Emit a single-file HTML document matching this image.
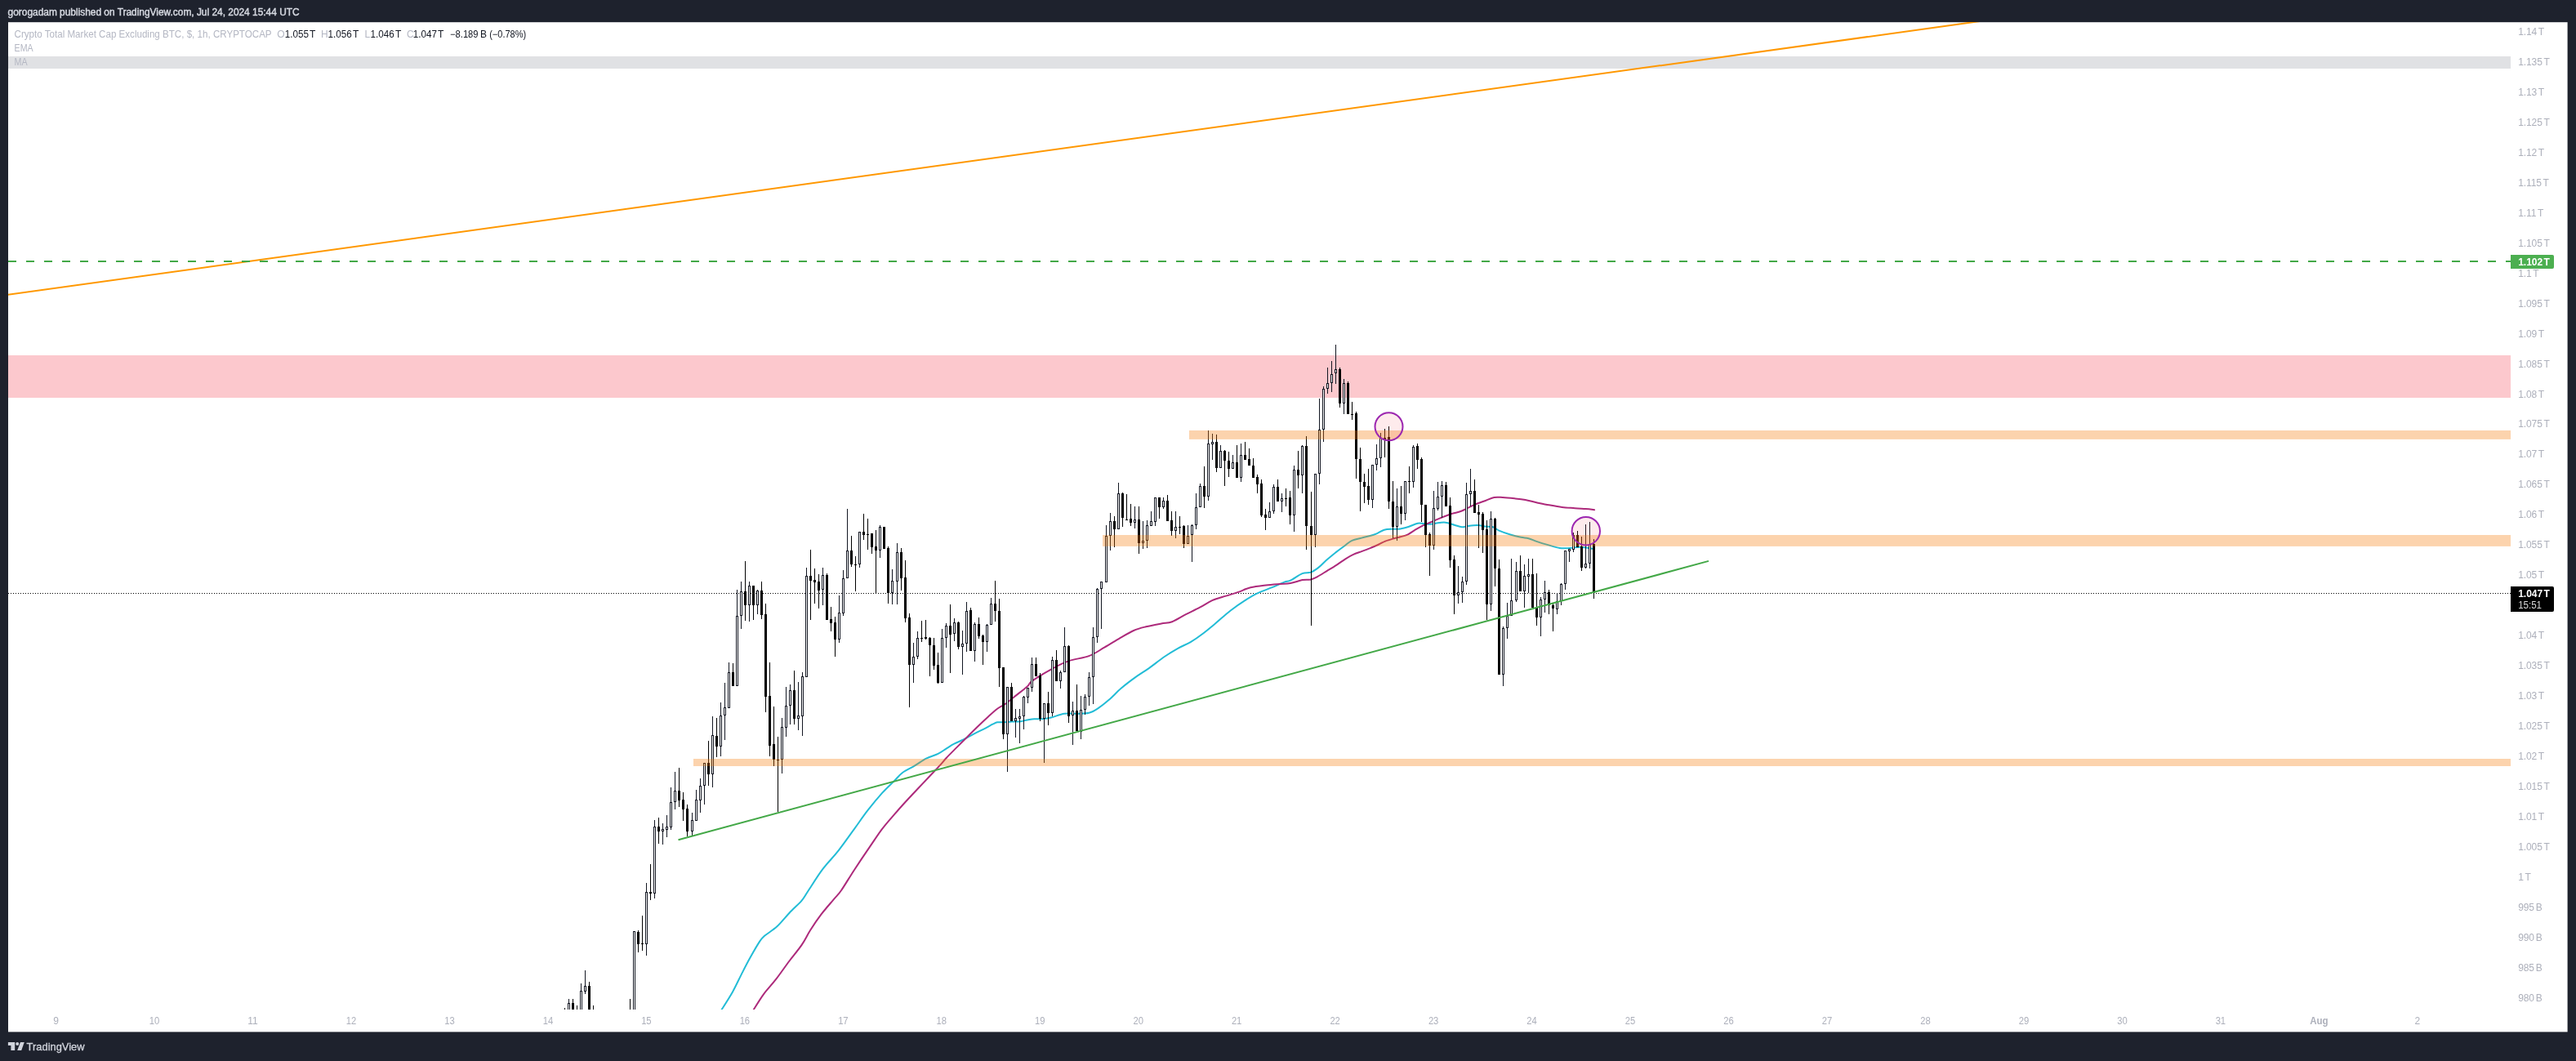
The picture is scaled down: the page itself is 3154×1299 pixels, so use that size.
<!DOCTYPE html>
<html lang="en"><head><meta charset="utf-8"><title>TOTAL2 chart - TradingView</title>
<style>
html,body{margin:0;padding:0;background:#1e222d;}
body{width:3154px;height:1299px;overflow:hidden;position:relative;font-family:"Liberation Sans",sans-serif;}
svg{position:absolute;left:0;top:0;display:block;will-change:transform}
svg text{font-family:"Liberation Sans",sans-serif;}
.ax{font-size:12px;fill:#adb0bb;letter-spacing:-0.1px}
.lg{font-size:12px;fill:#b4b7c3}
.lv{font-size:12px;fill:#131722}
.hd{font-size:12px;fill:#d5d8e0;stroke:#d5d8e0;stroke-width:0.45px}
</style></head><body>
<svg width="3154" height="1299" viewBox="0 0 3154 1299">
<defs><clipPath id="pane"><rect x="10" y="27" width="3064" height="1209"/></clipPath></defs>
<rect x="0" y="0" width="3154" height="1299" fill="#1e222d" />
<rect x="10" y="27.2" width="3133.6" height="1236.2" fill="#ffffff" />
<g clip-path="url(#pane)">
<rect x="10" y="435" width="3064" height="52" fill="#fcc8cd" />
<rect x="10" y="69" width="3064" height="15" fill="#e0e1e4" />
<line x1="10" y1="726.5" x2="3074" y2="726.5" stroke="#000" stroke-width="1" stroke-dasharray="1 2" shape-rendering="crispEdges"/>
<path d="M883.6,1236.0 C885.9,1232.4 893.1,1221.4 897.1,1214.2 C901.1,1207.0 904.2,1200.0 907.7,1193.1 C911.2,1186.2 914.5,1179.6 918.3,1172.8 C922.1,1166.0 927.3,1156.9 930.3,1152.4 C933.3,1147.9 932.9,1148.6 936.4,1145.6 C939.9,1142.6 946.4,1138.9 951.4,1134.3 C956.4,1129.7 961.5,1123.0 966.5,1117.7 C971.5,1112.4 977.8,1107.0 981.6,1102.6 C985.4,1098.2 985.0,1097.6 989.2,1091.3 C993.4,1085.0 1000.7,1073.0 1006.9,1064.7 C1013.1,1056.4 1020.0,1049.8 1026.6,1041.4 C1033.1,1033.1 1040.2,1022.8 1046.2,1014.6 C1052.2,1006.4 1056.7,999.5 1062.4,992.2 C1068.1,984.9 1074.9,976.7 1080.3,970.7 C1085.7,964.7 1090.4,960.6 1094.6,956.4 C1098.8,952.2 1101.1,948.8 1105.3,945.7 C1109.5,942.6 1114.9,940.5 1119.7,937.6 C1124.5,934.8 1129.2,931.1 1134.0,928.6 C1138.8,926.1 1144.3,925.0 1148.5,922.9 C1152.7,920.8 1155.6,918.3 1158.9,916.3 C1162.2,914.3 1164.8,912.5 1168.3,910.7 C1171.8,908.9 1175.5,907.5 1179.6,905.5 C1183.7,903.5 1188.4,900.7 1192.8,898.4 C1197.2,896.1 1202.2,893.8 1206.0,891.8 C1209.8,889.8 1212.9,888.0 1215.4,886.7 C1217.9,885.5 1219.0,884.7 1221.1,884.3 C1223.1,883.9 1224.7,884.4 1227.7,884.3 C1230.7,884.2 1235.5,883.6 1239.0,883.5 C1242.5,883.4 1245.3,883.8 1248.4,883.5 C1251.5,883.2 1254.8,882.0 1257.8,881.5 C1260.8,881.0 1263.1,880.4 1266.3,880.2 C1269.5,880.0 1273.2,880.5 1276.7,880.2 C1280.2,879.9 1282.6,879.6 1287.0,878.5 C1291.4,877.4 1298.0,874.5 1303.2,873.7 C1308.4,872.9 1313.3,873.9 1318.3,873.7 C1323.3,873.6 1328.9,873.9 1333.3,872.8 C1337.7,871.7 1340.5,869.8 1344.6,867.1 C1348.7,864.4 1353.1,860.9 1357.8,856.8 C1362.5,852.7 1367.6,847.2 1372.9,842.6 C1378.2,838.0 1384.2,833.5 1389.9,829.4 C1395.6,825.3 1400.8,822.3 1406.8,818.1 C1412.8,813.9 1419.7,808.1 1425.7,804.0 C1431.7,799.9 1437.3,796.6 1442.6,793.6 C1447.9,790.6 1452.7,789.1 1457.7,786.1 C1462.7,783.1 1467.8,779.5 1472.8,775.7 C1477.8,771.9 1482.2,768.2 1487.9,763.5 C1493.6,758.8 1500.4,752.4 1506.7,747.5 C1513.0,742.6 1519.8,737.9 1525.5,734.3 C1531.2,730.7 1535.2,728.3 1540.6,725.8 C1545.9,723.3 1552.3,721.4 1557.6,719.2 C1562.9,717.0 1568.9,714.0 1572.6,712.6 C1576.3,711.2 1576.3,712.5 1580.0,710.7 C1583.7,709.0 1590.3,703.8 1594.5,702.1 C1598.7,700.4 1601.8,701.8 1605.1,700.6 C1608.4,699.4 1611.2,697.3 1614.3,694.9 C1617.4,692.5 1620.0,689.4 1623.5,686.3 C1627.0,683.2 1631.7,679.4 1635.4,676.4 C1639.2,673.4 1642.7,670.9 1646.0,668.5 C1649.3,666.1 1651.7,663.5 1655.2,661.9 C1658.7,660.2 1663.4,659.6 1667.1,658.6 C1670.8,657.6 1674.5,656.9 1677.6,656.0 C1680.7,655.1 1682.6,654.5 1685.5,653.3 C1688.4,652.1 1691.5,649.6 1694.8,648.7 C1698.1,647.8 1702.0,647.9 1705.3,647.7 C1708.6,647.5 1711.3,647.9 1714.6,647.4 C1717.9,646.9 1721.6,645.8 1725.1,644.7 C1728.6,643.6 1732.4,641.4 1735.7,640.8 C1739.0,640.2 1742.3,641.0 1744.9,641.2 C1747.5,641.4 1748.6,642.0 1751.5,641.8 C1754.4,641.6 1759.0,640.5 1762.1,640.1 C1765.2,639.8 1766.9,639.3 1770.0,639.7 C1773.1,640.1 1777.3,641.8 1780.6,642.7 C1783.9,643.6 1786.9,645.1 1789.8,645.3 C1792.7,645.5 1794.4,644.4 1797.7,644.0 C1801.0,643.6 1806.1,643.0 1809.6,643.1 C1813.1,643.2 1815.7,644.2 1818.8,644.6 C1821.9,645.0 1825.1,644.4 1828.0,645.3 C1830.9,646.2 1832.5,648.4 1836.0,649.9 C1839.5,651.4 1844.8,653.2 1849.2,654.5 C1853.6,655.8 1858.6,657.0 1862.3,657.8 C1866.0,658.6 1868.3,658.3 1871.6,659.2 C1874.9,660.1 1878.1,661.8 1882.1,663.1 C1886.0,664.4 1890.7,665.8 1895.3,667.1 C1899.9,668.4 1905.4,670.4 1909.8,671.0 C1914.2,671.6 1917.5,671.2 1921.7,671.0 C1925.9,670.8 1930.3,669.6 1934.9,669.7 C1939.5,669.8 1947.0,671.4 1949.4,671.7" fill="none" stroke="#22bcd6" stroke-width="2" stroke-linejoin="round" stroke-linecap="round"/>
<path d="M922.8,1236.0 C924.8,1232.9 930.4,1223.4 934.9,1217.3 C939.4,1211.2 944.6,1206.0 949.9,1199.2 C955.2,1192.4 961.2,1183.5 966.5,1176.5 C971.8,1169.5 977.3,1163.2 981.6,1156.9 C985.9,1150.6 988.2,1145.1 992.2,1138.8 C996.2,1132.5 1000.9,1125.5 1005.7,1119.2 C1010.5,1112.9 1016.7,1106.0 1020.8,1101.1 C1024.9,1096.2 1025.9,1096.1 1030.1,1090.0 C1034.3,1083.9 1040.5,1073.4 1046.2,1064.7 C1051.9,1056.0 1058.5,1046.2 1064.2,1037.9 C1069.9,1029.6 1075.2,1021.3 1080.3,1014.6 C1085.4,1007.9 1089.8,1003.1 1094.6,997.6 C1099.4,992.1 1104.1,986.7 1108.9,981.5 C1113.7,976.3 1118.4,971.3 1123.2,966.2 C1128.0,961.1 1132.8,956.1 1137.6,951.0 C1142.4,945.9 1148.4,939.7 1151.9,935.8 C1155.5,931.9 1155.7,931.1 1158.9,927.7 C1162.1,924.3 1166.9,919.6 1171.1,915.4 C1175.3,911.1 1180.0,906.4 1184.3,902.2 C1188.5,898.0 1192.4,894.1 1196.6,890.0 C1200.8,885.9 1205.6,881.4 1209.7,877.7 C1213.8,874.0 1217.6,870.4 1221.1,867.8 C1224.6,865.2 1227.0,864.5 1230.5,862.1 C1234.0,859.7 1237.2,856.8 1241.8,853.2 C1246.3,849.6 1254.1,843.8 1257.8,840.5 C1261.5,837.2 1258.8,837.2 1264.2,833.4 C1269.6,829.6 1282.6,821.8 1290.0,817.8 C1297.4,813.8 1301.6,811.5 1308.8,809.1 C1316.0,806.7 1326.1,805.8 1333.3,803.1 C1340.5,800.4 1345.9,796.3 1352.2,792.7 C1358.5,789.1 1365.0,784.9 1371.0,781.4 C1377.0,777.9 1382.7,774.4 1388.0,772.0 C1393.3,769.6 1397.4,768.7 1403.1,767.3 C1408.8,765.9 1416.6,764.5 1421.9,763.5 C1427.2,762.5 1430.1,763.1 1435.1,761.2 C1440.1,759.3 1446.3,755.1 1452.0,752.2 C1457.7,749.3 1463.7,746.5 1469.0,743.7 C1474.3,740.9 1478.8,737.6 1484.1,735.2 C1489.4,732.9 1495.7,731.3 1501.0,729.6 C1506.3,727.9 1511.1,726.6 1516.1,724.9 C1521.1,723.2 1525.5,720.6 1531.2,719.2 C1536.9,717.8 1544.0,717.1 1550.0,716.4 C1556.0,715.7 1562.0,715.3 1567.0,714.9 C1572.0,714.5 1575.4,714.8 1580.0,714.0 C1584.6,713.2 1590.3,710.9 1594.5,710.1 C1598.7,709.3 1602.0,710.1 1605.1,709.4 C1608.2,708.7 1609.7,707.9 1613.0,706.1 C1616.3,704.3 1621.0,701.2 1624.9,698.8 C1628.9,696.4 1633.0,694.0 1636.7,691.6 C1640.4,689.2 1644.0,686.4 1647.3,684.3 C1650.6,682.2 1653.2,680.6 1656.5,679.1 C1659.8,677.6 1663.6,676.4 1667.1,675.1 C1670.6,673.8 1674.1,672.5 1677.6,671.1 C1681.1,669.7 1685.1,667.9 1688.2,666.5 C1691.3,665.1 1693.0,663.8 1696.1,662.6 C1699.2,661.4 1703.5,660.2 1706.6,659.3 C1709.7,658.4 1711.7,658.1 1714.6,657.3 C1717.5,656.5 1720.9,655.7 1723.8,654.4 C1726.7,653.1 1728.6,651.2 1731.7,649.4 C1734.8,647.6 1739.0,645.0 1742.3,643.4 C1745.6,641.8 1748.2,640.9 1751.5,639.5 C1754.8,638.1 1758.8,636.3 1762.1,634.9 C1765.4,633.5 1768.3,632.3 1771.3,631.2 C1774.3,630.1 1776.9,629.2 1780.0,628.3 C1783.1,627.3 1785.8,627.2 1789.8,625.5 C1793.8,623.8 1799.5,620.4 1804.3,618.3 C1809.1,616.2 1814.6,614.5 1818.8,613.0 C1823.0,611.5 1825.9,609.7 1829.4,609.0 C1832.9,608.3 1835.7,608.8 1839.9,609.0 C1844.1,609.2 1849.8,609.8 1854.4,610.3 C1859.0,610.8 1863.0,611.2 1867.6,612.1 C1872.2,613.0 1877.3,614.4 1882.1,615.4 C1886.9,616.4 1891.5,617.4 1896.6,618.3 C1901.7,619.2 1907.2,620.2 1912.5,620.9 C1917.8,621.5 1923.5,621.8 1928.3,622.2 C1933.1,622.6 1937.5,622.8 1941.5,623.1 C1945.5,623.4 1950.3,624.0 1952.1,624.2" fill="none" stroke="#ad2a7b" stroke-width="2" stroke-linejoin="round" stroke-linecap="round"/>
<g shape-rendering="crispEdges">
<rect x="691" y="1234" width="1" height="11" fill="#000000" />
<rect x="696" y="1223" width="1" height="22" fill="#131722" />
<rect x="695" y="1228" width="3" height="17" fill="#131722" />
<rect x="696" y="1229" width="1" height="15" fill="#ffffff" />
<rect x="701" y="1223" width="1" height="22" fill="#000000" />
<rect x="700" y="1228" width="3" height="17" fill="#000000" />
<rect x="706" y="1231" width="1" height="14" fill="#000000" />
<rect x="711" y="1204" width="1" height="41" fill="#131722" />
<rect x="710" y="1213" width="3" height="32" fill="#131722" />
<rect x="711" y="1214" width="1" height="30" fill="#ffffff" />
<rect x="716" y="1188" width="1" height="29" fill="#131722" />
<rect x="715" y="1207" width="3" height="7" fill="#131722" />
<rect x="716" y="1208" width="1" height="5" fill="#ffffff" />
<rect x="721" y="1202" width="1" height="43" fill="#000000" />
<rect x="720" y="1207" width="3" height="38" fill="#000000" />
<rect x="726" y="1231" width="1" height="14" fill="#000000" />
<rect x="771" y="1223" width="1" height="22" fill="#000000" />
<rect x="776" y="1140" width="1" height="105" fill="#131722" />
<rect x="775" y="1140" width="3" height="105" fill="#131722" />
<rect x="776" y="1141" width="1" height="103" fill="#ffffff" />
<rect x="781" y="1139" width="1" height="27" fill="#000000" />
<rect x="780" y="1141" width="3" height="15" fill="#000000" />
<rect x="786" y="1121" width="1" height="43" fill="#000000" />
<rect x="785" y="1155" width="3" height="1" fill="#000000" />
<rect x="791" y="1081" width="1" height="89" fill="#131722" />
<rect x="790" y="1092" width="3" height="64" fill="#131722" />
<rect x="791" y="1093" width="1" height="62" fill="#ffffff" />
<rect x="796" y="1058" width="1" height="44" fill="#000000" />
<rect x="795" y="1092" width="3" height="2" fill="#000000" />
<rect x="801" y="1004" width="1" height="96" fill="#131722" />
<rect x="800" y="1012" width="3" height="82" fill="#131722" />
<rect x="801" y="1013" width="1" height="80" fill="#ffffff" />
<rect x="806" y="1001" width="1" height="32" fill="#000000" />
<rect x="805" y="1012" width="3" height="6" fill="#000000" />
<rect x="811" y="1008" width="1" height="26" fill="#131722" />
<rect x="810" y="1015" width="3" height="3" fill="#131722" />
<rect x="811" y="1016" width="1" height="1" fill="#ffffff" />
<rect x="816" y="998" width="1" height="27" fill="#131722" />
<rect x="815" y="1012" width="3" height="4" fill="#131722" />
<rect x="816" y="1013" width="1" height="2" fill="#ffffff" />
<rect x="821" y="964" width="1" height="52" fill="#131722" />
<rect x="820" y="982" width="3" height="31" fill="#131722" />
<rect x="821" y="983" width="1" height="29" fill="#ffffff" />
<rect x="826" y="945" width="1" height="46" fill="#131722" />
<rect x="825" y="968" width="3" height="14" fill="#131722" />
<rect x="826" y="969" width="1" height="12" fill="#ffffff" />
<rect x="831" y="940" width="1" height="48" fill="#000000" />
<rect x="830" y="968" width="3" height="12" fill="#000000" />
<rect x="836" y="970" width="1" height="35" fill="#000000" />
<rect x="835" y="979" width="3" height="12" fill="#000000" />
<rect x="841" y="985" width="1" height="39" fill="#000000" />
<rect x="840" y="990" width="3" height="28" fill="#000000" />
<rect x="847" y="995" width="1" height="28" fill="#131722" />
<rect x="846" y="1004" width="3" height="14" fill="#131722" />
<rect x="847" y="1005" width="1" height="12" fill="#ffffff" />
<rect x="852" y="967" width="1" height="38" fill="#131722" />
<rect x="851" y="979" width="3" height="26" fill="#131722" />
<rect x="852" y="980" width="1" height="24" fill="#ffffff" />
<rect x="857" y="953" width="1" height="42" fill="#131722" />
<rect x="856" y="962" width="3" height="18" fill="#131722" />
<rect x="857" y="963" width="1" height="16" fill="#ffffff" />
<rect x="862" y="934" width="1" height="51" fill="#131722" />
<rect x="861" y="934" width="3" height="28" fill="#131722" />
<rect x="862" y="935" width="1" height="26" fill="#ffffff" />
<rect x="867" y="907" width="1" height="55" fill="#000000" />
<rect x="866" y="934" width="3" height="14" fill="#000000" />
<rect x="872" y="877" width="1" height="87" fill="#131722" />
<rect x="871" y="900" width="3" height="48" fill="#131722" />
<rect x="872" y="901" width="1" height="46" fill="#ffffff" />
<rect x="877" y="879" width="1" height="48" fill="#000000" />
<rect x="876" y="901" width="3" height="13" fill="#000000" />
<rect x="882" y="860" width="1" height="66" fill="#131722" />
<rect x="881" y="876" width="3" height="38" fill="#131722" />
<rect x="882" y="877" width="1" height="36" fill="#ffffff" />
<rect x="887" y="836" width="1" height="70" fill="#131722" />
<rect x="886" y="866" width="3" height="10" fill="#131722" />
<rect x="887" y="867" width="1" height="8" fill="#ffffff" />
<rect x="892" y="811" width="1" height="56" fill="#131722" />
<rect x="891" y="823" width="3" height="44" fill="#131722" />
<rect x="892" y="824" width="1" height="42" fill="#ffffff" />
<rect x="897" y="812" width="1" height="28" fill="#000000" />
<rect x="896" y="823" width="3" height="17" fill="#000000" />
<rect x="902" y="722" width="1" height="118" fill="#131722" />
<rect x="901" y="754" width="3" height="86" fill="#131722" />
<rect x="902" y="755" width="1" height="84" fill="#ffffff" />
<rect x="907" y="712" width="1" height="58" fill="#131722" />
<rect x="906" y="724" width="3" height="30" fill="#131722" />
<rect x="907" y="725" width="1" height="28" fill="#ffffff" />
<rect x="912" y="687" width="1" height="73" fill="#000000" />
<rect x="911" y="724" width="3" height="17" fill="#000000" />
<rect x="917" y="712" width="1" height="49" fill="#131722" />
<rect x="916" y="717" width="3" height="24" fill="#131722" />
<rect x="917" y="718" width="1" height="22" fill="#ffffff" />
<rect x="922" y="717" width="1" height="42" fill="#000000" />
<rect x="921" y="717" width="3" height="24" fill="#000000" />
<rect x="927" y="722" width="1" height="30" fill="#131722" />
<rect x="926" y="723" width="3" height="18" fill="#131722" />
<rect x="927" y="724" width="1" height="16" fill="#ffffff" />
<rect x="932" y="712" width="1" height="46" fill="#000000" />
<rect x="931" y="723" width="3" height="30" fill="#000000" />
<rect x="937" y="739" width="1" height="133" fill="#000000" />
<rect x="936" y="752" width="3" height="101" fill="#000000" />
<rect x="942" y="811" width="1" height="115" fill="#000000" />
<rect x="941" y="852" width="3" height="61" fill="#000000" />
<rect x="947" y="865" width="1" height="73" fill="#000000" />
<rect x="946" y="911" width="3" height="19" fill="#000000" />
<rect x="952" y="902" width="1" height="92" fill="#000000" />
<rect x="951" y="930" width="3" height="1" fill="#000000" />
<rect x="957" y="879" width="1" height="68" fill="#131722" />
<rect x="956" y="890" width="3" height="40" fill="#131722" />
<rect x="957" y="891" width="1" height="38" fill="#ffffff" />
<rect x="962" y="841" width="1" height="61" fill="#131722" />
<rect x="961" y="864" width="3" height="27" fill="#131722" />
<rect x="962" y="865" width="1" height="25" fill="#ffffff" />
<rect x="967" y="838" width="1" height="49" fill="#131722" />
<rect x="966" y="845" width="3" height="19" fill="#131722" />
<rect x="967" y="846" width="1" height="17" fill="#ffffff" />
<rect x="972" y="821" width="1" height="66" fill="#000000" />
<rect x="971" y="845" width="3" height="35" fill="#000000" />
<rect x="977" y="835" width="1" height="59" fill="#131722" />
<rect x="976" y="876" width="3" height="4" fill="#131722" />
<rect x="977" y="877" width="1" height="2" fill="#ffffff" />
<rect x="982" y="823" width="1" height="78" fill="#131722" />
<rect x="981" y="828" width="3" height="49" fill="#131722" />
<rect x="982" y="829" width="1" height="47" fill="#ffffff" />
<rect x="987" y="695" width="1" height="134" fill="#131722" />
<rect x="986" y="705" width="3" height="124" fill="#131722" />
<rect x="987" y="706" width="1" height="122" fill="#ffffff" />
<rect x="992" y="673" width="1" height="86" fill="#000000" />
<rect x="991" y="705" width="3" height="6" fill="#000000" />
<rect x="997" y="696" width="1" height="43" fill="#000000" />
<rect x="996" y="710" width="3" height="3" fill="#000000" />
<rect x="1002" y="703" width="1" height="42" fill="#000000" />
<rect x="1001" y="712" width="3" height="11" fill="#000000" />
<rect x="1007" y="695" width="1" height="46" fill="#131722" />
<rect x="1006" y="704" width="3" height="18" fill="#131722" />
<rect x="1007" y="705" width="1" height="16" fill="#ffffff" />
<rect x="1012" y="702" width="1" height="57" fill="#000000" />
<rect x="1011" y="704" width="3" height="55" fill="#000000" />
<rect x="1017" y="743" width="1" height="30" fill="#000000" />
<rect x="1016" y="758" width="3" height="5" fill="#000000" />
<rect x="1022" y="755" width="1" height="49" fill="#000000" />
<rect x="1021" y="762" width="3" height="21" fill="#000000" />
<rect x="1027" y="729" width="1" height="58" fill="#131722" />
<rect x="1026" y="750" width="3" height="33" fill="#131722" />
<rect x="1027" y="751" width="1" height="31" fill="#ffffff" />
<rect x="1032" y="698" width="1" height="56" fill="#131722" />
<rect x="1031" y="708" width="3" height="43" fill="#131722" />
<rect x="1032" y="709" width="1" height="41" fill="#ffffff" />
<rect x="1037" y="623" width="1" height="85" fill="#131722" />
<rect x="1036" y="674" width="3" height="34" fill="#131722" />
<rect x="1037" y="675" width="1" height="32" fill="#ffffff" />
<rect x="1042" y="656" width="1" height="38" fill="#000000" />
<rect x="1041" y="674" width="3" height="17" fill="#000000" />
<rect x="1047" y="681" width="1" height="43" fill="#000000" />
<rect x="1046" y="691" width="3" height="1" fill="#000000" />
<rect x="1052" y="651" width="1" height="44" fill="#131722" />
<rect x="1051" y="651" width="3" height="40" fill="#131722" />
<rect x="1052" y="652" width="1" height="38" fill="#ffffff" />
<rect x="1057" y="629" width="1" height="32" fill="#000000" />
<rect x="1056" y="651" width="3" height="4" fill="#000000" />
<rect x="1062" y="635" width="1" height="38" fill="#000000" />
<rect x="1061" y="654" width="3" height="1" fill="#000000" />
<rect x="1067" y="653" width="1" height="25" fill="#000000" />
<rect x="1066" y="653" width="3" height="17" fill="#000000" />
<rect x="1072" y="649" width="1" height="77" fill="#000000" />
<rect x="1071" y="669" width="3" height="5" fill="#000000" />
<rect x="1077" y="643" width="1" height="40" fill="#131722" />
<rect x="1076" y="645" width="3" height="29" fill="#131722" />
<rect x="1077" y="646" width="1" height="27" fill="#ffffff" />
<rect x="1082" y="645" width="1" height="27" fill="#000000" />
<rect x="1081" y="645" width="3" height="27" fill="#000000" />
<rect x="1087" y="669" width="1" height="70" fill="#000000" />
<rect x="1086" y="671" width="3" height="55" fill="#000000" />
<rect x="1092" y="697" width="1" height="43" fill="#131722" />
<rect x="1091" y="711" width="3" height="15" fill="#131722" />
<rect x="1092" y="712" width="1" height="13" fill="#ffffff" />
<rect x="1098" y="665" width="1" height="75" fill="#131722" />
<rect x="1097" y="676" width="3" height="36" fill="#131722" />
<rect x="1098" y="677" width="1" height="34" fill="#ffffff" />
<rect x="1103" y="671" width="1" height="52" fill="#000000" />
<rect x="1102" y="676" width="3" height="32" fill="#000000" />
<rect x="1108" y="686" width="1" height="76" fill="#000000" />
<rect x="1107" y="707" width="3" height="50" fill="#000000" />
<rect x="1113" y="751" width="1" height="115" fill="#000000" />
<rect x="1112" y="756" width="3" height="58" fill="#000000" />
<rect x="1118" y="787" width="1" height="49" fill="#131722" />
<rect x="1117" y="804" width="3" height="10" fill="#131722" />
<rect x="1118" y="805" width="1" height="8" fill="#ffffff" />
<rect x="1123" y="773" width="1" height="34" fill="#131722" />
<rect x="1122" y="781" width="3" height="23" fill="#131722" />
<rect x="1123" y="782" width="1" height="21" fill="#ffffff" />
<rect x="1128" y="760" width="1" height="26" fill="#000000" />
<rect x="1127" y="781" width="3" height="1" fill="#000000" />
<rect x="1133" y="759" width="1" height="24" fill="#000000" />
<rect x="1132" y="780" width="3" height="2" fill="#000000" />
<rect x="1138" y="780" width="1" height="48" fill="#000000" />
<rect x="1137" y="781" width="3" height="9" fill="#000000" />
<rect x="1143" y="781" width="1" height="39" fill="#000000" />
<rect x="1142" y="790" width="3" height="25" fill="#000000" />
<rect x="1148" y="799" width="1" height="38" fill="#000000" />
<rect x="1147" y="814" width="3" height="22" fill="#000000" />
<rect x="1153" y="770" width="1" height="66" fill="#131722" />
<rect x="1152" y="781" width="3" height="55" fill="#131722" />
<rect x="1153" y="782" width="1" height="53" fill="#ffffff" />
<rect x="1158" y="763" width="1" height="30" fill="#131722" />
<rect x="1157" y="766" width="3" height="15" fill="#131722" />
<rect x="1158" y="767" width="1" height="13" fill="#ffffff" />
<rect x="1163" y="740" width="1" height="84" fill="#000000" />
<rect x="1162" y="766" width="3" height="11" fill="#000000" />
<rect x="1168" y="757" width="1" height="28" fill="#131722" />
<rect x="1167" y="762" width="3" height="14" fill="#131722" />
<rect x="1168" y="763" width="1" height="12" fill="#ffffff" />
<rect x="1173" y="761" width="1" height="34" fill="#000000" />
<rect x="1172" y="762" width="3" height="30" fill="#000000" />
<rect x="1178" y="772" width="1" height="54" fill="#131722" />
<rect x="1177" y="788" width="3" height="4" fill="#131722" />
<rect x="1178" y="789" width="1" height="2" fill="#ffffff" />
<rect x="1183" y="737" width="1" height="61" fill="#131722" />
<rect x="1182" y="748" width="3" height="40" fill="#131722" />
<rect x="1183" y="749" width="1" height="38" fill="#ffffff" />
<rect x="1188" y="744" width="1" height="53" fill="#000000" />
<rect x="1187" y="747" width="3" height="50" fill="#000000" />
<rect x="1193" y="762" width="1" height="48" fill="#131722" />
<rect x="1192" y="764" width="3" height="33" fill="#131722" />
<rect x="1193" y="765" width="1" height="31" fill="#ffffff" />
<rect x="1198" y="756" width="1" height="26" fill="#000000" />
<rect x="1197" y="764" width="3" height="15" fill="#000000" />
<rect x="1203" y="777" width="1" height="37" fill="#000000" />
<rect x="1202" y="778" width="3" height="8" fill="#000000" />
<rect x="1208" y="764" width="1" height="34" fill="#131722" />
<rect x="1207" y="765" width="3" height="21" fill="#131722" />
<rect x="1208" y="766" width="1" height="19" fill="#ffffff" />
<rect x="1213" y="732" width="1" height="33" fill="#131722" />
<rect x="1212" y="739" width="3" height="26" fill="#131722" />
<rect x="1213" y="740" width="1" height="24" fill="#ffffff" />
<rect x="1218" y="711" width="1" height="50" fill="#000000" />
<rect x="1217" y="739" width="3" height="9" fill="#000000" />
<rect x="1223" y="733" width="1" height="108" fill="#000000" />
<rect x="1222" y="748" width="3" height="70" fill="#000000" />
<rect x="1228" y="817" width="1" height="88" fill="#000000" />
<rect x="1227" y="817" width="3" height="82" fill="#000000" />
<rect x="1233" y="841" width="1" height="104" fill="#131722" />
<rect x="1232" y="841" width="3" height="58" fill="#131722" />
<rect x="1233" y="842" width="1" height="56" fill="#ffffff" />
<rect x="1238" y="836" width="1" height="47" fill="#000000" />
<rect x="1237" y="841" width="3" height="42" fill="#000000" />
<rect x="1243" y="868" width="1" height="35" fill="#131722" />
<rect x="1242" y="879" width="3" height="4" fill="#131722" />
<rect x="1243" y="880" width="1" height="2" fill="#ffffff" />
<rect x="1248" y="868" width="1" height="42" fill="#131722" />
<rect x="1247" y="877" width="3" height="3" fill="#131722" />
<rect x="1248" y="878" width="1" height="1" fill="#ffffff" />
<rect x="1253" y="852" width="1" height="41" fill="#131722" />
<rect x="1252" y="853" width="3" height="24" fill="#131722" />
<rect x="1253" y="854" width="1" height="22" fill="#ffffff" />
<rect x="1258" y="842" width="1" height="19" fill="#131722" />
<rect x="1257" y="842" width="3" height="12" fill="#131722" />
<rect x="1258" y="843" width="1" height="10" fill="#ffffff" />
<rect x="1263" y="805" width="1" height="42" fill="#131722" />
<rect x="1262" y="813" width="3" height="29" fill="#131722" />
<rect x="1263" y="814" width="1" height="27" fill="#ffffff" />
<rect x="1268" y="805" width="1" height="23" fill="#000000" />
<rect x="1267" y="813" width="3" height="15" fill="#000000" />
<rect x="1273" y="824" width="1" height="59" fill="#000000" />
<rect x="1272" y="827" width="3" height="53" fill="#000000" />
<rect x="1278" y="861" width="1" height="73" fill="#131722" />
<rect x="1277" y="861" width="3" height="19" fill="#131722" />
<rect x="1278" y="862" width="1" height="17" fill="#ffffff" />
<rect x="1283" y="847" width="1" height="41" fill="#000000" />
<rect x="1282" y="861" width="3" height="12" fill="#000000" />
<rect x="1288" y="804" width="1" height="73" fill="#131722" />
<rect x="1287" y="808" width="3" height="65" fill="#131722" />
<rect x="1288" y="809" width="1" height="63" fill="#ffffff" />
<rect x="1293" y="796" width="1" height="38" fill="#000000" />
<rect x="1292" y="808" width="3" height="26" fill="#000000" />
<rect x="1298" y="821" width="1" height="22" fill="#131722" />
<rect x="1297" y="823" width="3" height="11" fill="#131722" />
<rect x="1298" y="824" width="1" height="9" fill="#ffffff" />
<rect x="1303" y="768" width="1" height="55" fill="#131722" />
<rect x="1302" y="791" width="3" height="32" fill="#131722" />
<rect x="1303" y="792" width="1" height="30" fill="#ffffff" />
<rect x="1308" y="790" width="1" height="95" fill="#000000" />
<rect x="1307" y="791" width="3" height="86" fill="#000000" />
<rect x="1313" y="859" width="1" height="53" fill="#131722" />
<rect x="1312" y="870" width="3" height="6" fill="#131722" />
<rect x="1313" y="871" width="1" height="4" fill="#ffffff" />
<rect x="1318" y="838" width="1" height="57" fill="#000000" />
<rect x="1317" y="870" width="3" height="25" fill="#000000" />
<rect x="1323" y="852" width="1" height="53" fill="#131722" />
<rect x="1322" y="869" width="3" height="27" fill="#131722" />
<rect x="1323" y="870" width="1" height="25" fill="#ffffff" />
<rect x="1328" y="850" width="1" height="25" fill="#131722" />
<rect x="1327" y="853" width="3" height="16" fill="#131722" />
<rect x="1328" y="854" width="1" height="14" fill="#ffffff" />
<rect x="1333" y="823" width="1" height="41" fill="#131722" />
<rect x="1332" y="829" width="3" height="24" fill="#131722" />
<rect x="1333" y="830" width="1" height="22" fill="#ffffff" />
<rect x="1338" y="768" width="1" height="94" fill="#131722" />
<rect x="1337" y="780" width="3" height="49" fill="#131722" />
<rect x="1338" y="781" width="1" height="47" fill="#ffffff" />
<rect x="1343" y="720" width="1" height="67" fill="#131722" />
<rect x="1342" y="721" width="3" height="59" fill="#131722" />
<rect x="1343" y="722" width="1" height="57" fill="#ffffff" />
<rect x="1348" y="712" width="1" height="58" fill="#131722" />
<rect x="1347" y="712" width="3" height="9" fill="#131722" />
<rect x="1348" y="713" width="1" height="7" fill="#ffffff" />
<rect x="1354" y="643" width="1" height="70" fill="#131722" />
<rect x="1353" y="656" width="3" height="57" fill="#131722" />
<rect x="1354" y="657" width="1" height="55" fill="#ffffff" />
<rect x="1359" y="628" width="1" height="46" fill="#131722" />
<rect x="1358" y="638" width="3" height="18" fill="#131722" />
<rect x="1359" y="639" width="1" height="16" fill="#ffffff" />
<rect x="1364" y="632" width="1" height="38" fill="#000000" />
<rect x="1363" y="638" width="3" height="10" fill="#000000" />
<rect x="1369" y="591" width="1" height="57" fill="#131722" />
<rect x="1368" y="604" width="3" height="44" fill="#131722" />
<rect x="1369" y="605" width="1" height="42" fill="#ffffff" />
<rect x="1374" y="603" width="1" height="42" fill="#000000" />
<rect x="1373" y="604" width="3" height="30" fill="#000000" />
<rect x="1379" y="605" width="1" height="32" fill="#000000" />
<rect x="1378" y="636" width="3" height="1" fill="#000000" />
<rect x="1384" y="617" width="1" height="27" fill="#000000" />
<rect x="1383" y="635" width="3" height="5" fill="#000000" />
<rect x="1389" y="620" width="1" height="27" fill="#131722" />
<rect x="1388" y="636" width="3" height="4" fill="#131722" />
<rect x="1389" y="637" width="1" height="2" fill="#ffffff" />
<rect x="1394" y="620" width="1" height="58" fill="#000000" />
<rect x="1393" y="636" width="3" height="29" fill="#000000" />
<rect x="1399" y="638" width="1" height="34" fill="#131722" />
<rect x="1398" y="662" width="3" height="3" fill="#131722" />
<rect x="1399" y="663" width="1" height="1" fill="#ffffff" />
<rect x="1404" y="637" width="1" height="34" fill="#131722" />
<rect x="1403" y="643" width="3" height="19" fill="#131722" />
<rect x="1404" y="644" width="1" height="17" fill="#ffffff" />
<rect x="1409" y="626" width="1" height="18" fill="#131722" />
<rect x="1408" y="638" width="3" height="6" fill="#131722" />
<rect x="1409" y="639" width="1" height="4" fill="#ffffff" />
<rect x="1414" y="609" width="1" height="35" fill="#131722" />
<rect x="1413" y="609" width="3" height="30" fill="#131722" />
<rect x="1414" y="610" width="1" height="28" fill="#ffffff" />
<rect x="1419" y="609" width="1" height="26" fill="#000000" />
<rect x="1418" y="609" width="3" height="12" fill="#000000" />
<rect x="1424" y="609" width="1" height="14" fill="#131722" />
<rect x="1423" y="613" width="3" height="8" fill="#131722" />
<rect x="1424" y="614" width="1" height="6" fill="#ffffff" />
<rect x="1429" y="606" width="1" height="32" fill="#000000" />
<rect x="1428" y="613" width="3" height="25" fill="#000000" />
<rect x="1434" y="626" width="1" height="30" fill="#000000" />
<rect x="1433" y="637" width="3" height="13" fill="#000000" />
<rect x="1439" y="626" width="1" height="33" fill="#131722" />
<rect x="1438" y="645" width="3" height="5" fill="#131722" />
<rect x="1439" y="646" width="1" height="3" fill="#ffffff" />
<rect x="1444" y="632" width="1" height="22" fill="#000000" />
<rect x="1443" y="645" width="3" height="1" fill="#000000" />
<rect x="1449" y="643" width="1" height="28" fill="#000000" />
<rect x="1448" y="644" width="3" height="22" fill="#000000" />
<rect x="1454" y="643" width="1" height="23" fill="#131722" />
<rect x="1453" y="656" width="3" height="10" fill="#131722" />
<rect x="1454" y="657" width="1" height="8" fill="#ffffff" />
<rect x="1459" y="642" width="1" height="46" fill="#131722" />
<rect x="1458" y="643" width="3" height="12" fill="#131722" />
<rect x="1459" y="644" width="1" height="10" fill="#ffffff" />
<rect x="1464" y="604" width="1" height="44" fill="#131722" />
<rect x="1463" y="621" width="3" height="22" fill="#131722" />
<rect x="1464" y="622" width="1" height="20" fill="#ffffff" />
<rect x="1469" y="592" width="1" height="29" fill="#131722" />
<rect x="1468" y="595" width="3" height="26" fill="#131722" />
<rect x="1469" y="596" width="1" height="24" fill="#ffffff" />
<rect x="1474" y="571" width="1" height="51" fill="#000000" />
<rect x="1473" y="595" width="3" height="13" fill="#000000" />
<rect x="1479" y="527" width="1" height="86" fill="#131722" />
<rect x="1478" y="543" width="3" height="65" fill="#131722" />
<rect x="1479" y="544" width="1" height="63" fill="#ffffff" />
<rect x="1484" y="531" width="1" height="32" fill="#131722" />
<rect x="1483" y="541" width="3" height="3" fill="#131722" />
<rect x="1484" y="542" width="1" height="1" fill="#ffffff" />
<rect x="1489" y="532" width="1" height="46" fill="#000000" />
<rect x="1488" y="541" width="3" height="32" fill="#000000" />
<rect x="1494" y="545" width="1" height="28" fill="#131722" />
<rect x="1493" y="552" width="3" height="21" fill="#131722" />
<rect x="1494" y="553" width="1" height="19" fill="#ffffff" />
<rect x="1499" y="551" width="1" height="44" fill="#000000" />
<rect x="1498" y="552" width="3" height="12" fill="#000000" />
<rect x="1504" y="553" width="1" height="31" fill="#000000" />
<rect x="1503" y="564" width="3" height="10" fill="#000000" />
<rect x="1509" y="557" width="1" height="17" fill="#131722" />
<rect x="1508" y="566" width="3" height="8" fill="#131722" />
<rect x="1509" y="567" width="1" height="6" fill="#ffffff" />
<rect x="1514" y="545" width="1" height="40" fill="#000000" />
<rect x="1513" y="566" width="3" height="19" fill="#000000" />
<rect x="1519" y="543" width="1" height="47" fill="#131722" />
<rect x="1518" y="557" width="3" height="28" fill="#131722" />
<rect x="1519" y="558" width="1" height="26" fill="#ffffff" />
<rect x="1524" y="541" width="1" height="22" fill="#000000" />
<rect x="1523" y="557" width="3" height="6" fill="#000000" />
<rect x="1529" y="549" width="1" height="21" fill="#000000" />
<rect x="1528" y="562" width="3" height="8" fill="#000000" />
<rect x="1534" y="561" width="1" height="24" fill="#000000" />
<rect x="1533" y="570" width="3" height="15" fill="#000000" />
<rect x="1539" y="581" width="1" height="23" fill="#000000" />
<rect x="1538" y="584" width="3" height="9" fill="#000000" />
<rect x="1544" y="587" width="1" height="46" fill="#000000" />
<rect x="1543" y="592" width="3" height="39" fill="#000000" />
<rect x="1549" y="623" width="1" height="26" fill="#000000" />
<rect x="1548" y="630" width="3" height="4" fill="#000000" />
<rect x="1554" y="615" width="1" height="19" fill="#131722" />
<rect x="1553" y="626" width="3" height="8" fill="#131722" />
<rect x="1554" y="627" width="1" height="6" fill="#ffffff" />
<rect x="1559" y="593" width="1" height="36" fill="#131722" />
<rect x="1558" y="596" width="3" height="30" fill="#131722" />
<rect x="1559" y="597" width="1" height="28" fill="#ffffff" />
<rect x="1564" y="587" width="1" height="27" fill="#000000" />
<rect x="1563" y="596" width="3" height="18" fill="#000000" />
<rect x="1569" y="604" width="1" height="23" fill="#131722" />
<rect x="1568" y="610" width="3" height="4" fill="#131722" />
<rect x="1569" y="611" width="1" height="2" fill="#ffffff" />
<rect x="1574" y="598" width="1" height="22" fill="#000000" />
<rect x="1573" y="610" width="3" height="1" fill="#000000" />
<rect x="1579" y="601" width="1" height="41" fill="#000000" />
<rect x="1578" y="609" width="3" height="22" fill="#000000" />
<rect x="1584" y="570" width="1" height="81" fill="#131722" />
<rect x="1583" y="575" width="3" height="56" fill="#131722" />
<rect x="1584" y="576" width="1" height="54" fill="#ffffff" />
<rect x="1589" y="552" width="1" height="46" fill="#000000" />
<rect x="1588" y="575" width="3" height="7" fill="#000000" />
<rect x="1594" y="545" width="1" height="59" fill="#131722" />
<rect x="1593" y="546" width="3" height="36" fill="#131722" />
<rect x="1594" y="547" width="1" height="34" fill="#ffffff" />
<rect x="1599" y="534" width="1" height="139" fill="#000000" />
<rect x="1598" y="546" width="3" height="98" fill="#000000" />
<rect x="1605" y="602" width="1" height="164" fill="#000000" />
<rect x="1604" y="644" width="3" height="11" fill="#000000" />
<rect x="1610" y="580" width="1" height="90" fill="#131722" />
<rect x="1609" y="580" width="3" height="75" fill="#131722" />
<rect x="1610" y="581" width="1" height="73" fill="#ffffff" />
<rect x="1615" y="488" width="1" height="105" fill="#131722" />
<rect x="1614" y="526" width="3" height="54" fill="#131722" />
<rect x="1615" y="527" width="1" height="52" fill="#ffffff" />
<rect x="1620" y="473" width="1" height="68" fill="#131722" />
<rect x="1619" y="476" width="3" height="50" fill="#131722" />
<rect x="1620" y="477" width="1" height="48" fill="#ffffff" />
<rect x="1625" y="450" width="1" height="32" fill="#131722" />
<rect x="1624" y="469" width="3" height="7" fill="#131722" />
<rect x="1625" y="470" width="1" height="5" fill="#ffffff" />
<rect x="1630" y="442" width="1" height="38" fill="#131722" />
<rect x="1629" y="458" width="3" height="11" fill="#131722" />
<rect x="1630" y="459" width="1" height="9" fill="#ffffff" />
<rect x="1635" y="422" width="1" height="48" fill="#131722" />
<rect x="1634" y="452" width="3" height="5" fill="#131722" />
<rect x="1635" y="453" width="1" height="3" fill="#ffffff" />
<rect x="1640" y="450" width="1" height="49" fill="#000000" />
<rect x="1639" y="452" width="3" height="42" fill="#000000" />
<rect x="1645" y="464" width="1" height="43" fill="#131722" />
<rect x="1644" y="469" width="3" height="25" fill="#131722" />
<rect x="1645" y="470" width="1" height="23" fill="#ffffff" />
<rect x="1650" y="467" width="1" height="40" fill="#000000" />
<rect x="1649" y="469" width="3" height="38" fill="#000000" />
<rect x="1655" y="492" width="1" height="22" fill="#000000" />
<rect x="1654" y="507" width="3" height="1" fill="#000000" />
<rect x="1660" y="504" width="1" height="82" fill="#000000" />
<rect x="1659" y="506" width="3" height="56" fill="#000000" />
<rect x="1665" y="548" width="1" height="78" fill="#000000" />
<rect x="1664" y="562" width="3" height="28" fill="#000000" />
<rect x="1670" y="580" width="1" height="36" fill="#000000" />
<rect x="1669" y="590" width="3" height="6" fill="#000000" />
<rect x="1675" y="574" width="1" height="44" fill="#000000" />
<rect x="1674" y="595" width="3" height="17" fill="#000000" />
<rect x="1680" y="569" width="1" height="53" fill="#131722" />
<rect x="1679" y="569" width="3" height="43" fill="#131722" />
<rect x="1680" y="570" width="1" height="41" fill="#ffffff" />
<rect x="1685" y="544" width="1" height="32" fill="#131722" />
<rect x="1684" y="561" width="3" height="8" fill="#131722" />
<rect x="1685" y="562" width="1" height="6" fill="#ffffff" />
<rect x="1690" y="530" width="1" height="42" fill="#131722" />
<rect x="1689" y="536" width="3" height="25" fill="#131722" />
<rect x="1690" y="537" width="1" height="23" fill="#ffffff" />
<rect x="1695" y="525" width="1" height="35" fill="#000000" />
<rect x="1694" y="536" width="3" height="2" fill="#000000" />
<rect x="1700" y="522" width="1" height="101" fill="#000000" />
<rect x="1699" y="535" width="3" height="79" fill="#000000" />
<rect x="1705" y="589" width="1" height="70" fill="#000000" />
<rect x="1704" y="614" width="3" height="31" fill="#000000" />
<rect x="1710" y="598" width="1" height="64" fill="#131722" />
<rect x="1709" y="620" width="3" height="25" fill="#131722" />
<rect x="1710" y="621" width="1" height="23" fill="#ffffff" />
<rect x="1715" y="595" width="1" height="47" fill="#000000" />
<rect x="1714" y="620" width="3" height="9" fill="#000000" />
<rect x="1720" y="589" width="1" height="48" fill="#131722" />
<rect x="1719" y="589" width="3" height="40" fill="#131722" />
<rect x="1720" y="590" width="1" height="38" fill="#ffffff" />
<rect x="1725" y="571" width="1" height="33" fill="#000000" />
<rect x="1724" y="589" width="3" height="1" fill="#000000" />
<rect x="1730" y="545" width="1" height="52" fill="#131722" />
<rect x="1729" y="547" width="3" height="43" fill="#131722" />
<rect x="1730" y="548" width="1" height="41" fill="#ffffff" />
<rect x="1735" y="543" width="1" height="31" fill="#000000" />
<rect x="1734" y="546" width="3" height="17" fill="#000000" />
<rect x="1740" y="560" width="1" height="79" fill="#000000" />
<rect x="1739" y="562" width="3" height="56" fill="#000000" />
<rect x="1745" y="618" width="1" height="52" fill="#000000" />
<rect x="1744" y="618" width="3" height="37" fill="#000000" />
<rect x="1750" y="652" width="1" height="53" fill="#000000" />
<rect x="1749" y="654" width="3" height="14" fill="#000000" />
<rect x="1755" y="601" width="1" height="72" fill="#131722" />
<rect x="1754" y="622" width="3" height="46" fill="#131722" />
<rect x="1755" y="623" width="1" height="44" fill="#ffffff" />
<rect x="1760" y="590" width="1" height="35" fill="#131722" />
<rect x="1759" y="608" width="3" height="15" fill="#131722" />
<rect x="1760" y="609" width="1" height="13" fill="#ffffff" />
<rect x="1765" y="589" width="1" height="45" fill="#131722" />
<rect x="1764" y="594" width="3" height="14" fill="#131722" />
<rect x="1765" y="595" width="1" height="12" fill="#ffffff" />
<rect x="1770" y="590" width="1" height="30" fill="#000000" />
<rect x="1769" y="594" width="3" height="26" fill="#000000" />
<rect x="1775" y="609" width="1" height="86" fill="#000000" />
<rect x="1774" y="619" width="3" height="67" fill="#000000" />
<rect x="1780" y="680" width="1" height="72" fill="#000000" />
<rect x="1779" y="685" width="3" height="44" fill="#000000" />
<rect x="1785" y="693" width="1" height="46" fill="#131722" />
<rect x="1784" y="725" width="3" height="4" fill="#131722" />
<rect x="1785" y="726" width="1" height="2" fill="#ffffff" />
<rect x="1790" y="706" width="1" height="32" fill="#131722" />
<rect x="1789" y="712" width="3" height="13" fill="#131722" />
<rect x="1790" y="713" width="1" height="11" fill="#ffffff" />
<rect x="1795" y="591" width="1" height="125" fill="#131722" />
<rect x="1794" y="605" width="3" height="107" fill="#131722" />
<rect x="1795" y="606" width="1" height="105" fill="#ffffff" />
<rect x="1800" y="574" width="1" height="46" fill="#131722" />
<rect x="1799" y="601" width="3" height="4" fill="#131722" />
<rect x="1800" y="602" width="1" height="2" fill="#ffffff" />
<rect x="1805" y="587" width="1" height="41" fill="#000000" />
<rect x="1804" y="601" width="3" height="27" fill="#000000" />
<rect x="1810" y="618" width="1" height="53" fill="#000000" />
<rect x="1809" y="627" width="3" height="3" fill="#000000" />
<rect x="1815" y="627" width="1" height="50" fill="#000000" />
<rect x="1814" y="629" width="3" height="20" fill="#000000" />
<rect x="1820" y="637" width="1" height="122" fill="#000000" />
<rect x="1819" y="648" width="3" height="92" fill="#000000" />
<rect x="1825" y="626" width="1" height="122" fill="#131722" />
<rect x="1824" y="635" width="3" height="105" fill="#131722" />
<rect x="1825" y="636" width="1" height="103" fill="#ffffff" />
<rect x="1830" y="634" width="1" height="84" fill="#000000" />
<rect x="1829" y="635" width="3" height="61" fill="#000000" />
<rect x="1835" y="685" width="1" height="141" fill="#000000" />
<rect x="1834" y="696" width="3" height="130" fill="#000000" />
<rect x="1840" y="767" width="1" height="73" fill="#131722" />
<rect x="1839" y="769" width="3" height="57" fill="#131722" />
<rect x="1840" y="770" width="1" height="55" fill="#ffffff" />
<rect x="1845" y="738" width="1" height="44" fill="#131722" />
<rect x="1844" y="754" width="3" height="15" fill="#131722" />
<rect x="1845" y="755" width="1" height="13" fill="#ffffff" />
<rect x="1850" y="684" width="1" height="70" fill="#131722" />
<rect x="1849" y="735" width="3" height="19" fill="#131722" />
<rect x="1850" y="736" width="1" height="17" fill="#ffffff" />
<rect x="1856" y="688" width="1" height="49" fill="#131722" />
<rect x="1855" y="699" width="3" height="36" fill="#131722" />
<rect x="1856" y="700" width="1" height="34" fill="#ffffff" />
<rect x="1861" y="680" width="1" height="44" fill="#000000" />
<rect x="1860" y="699" width="3" height="25" fill="#000000" />
<rect x="1866" y="691" width="1" height="53" fill="#131722" />
<rect x="1865" y="705" width="3" height="19" fill="#131722" />
<rect x="1866" y="706" width="1" height="17" fill="#ffffff" />
<rect x="1871" y="684" width="1" height="42" fill="#131722" />
<rect x="1870" y="703" width="3" height="3" fill="#131722" />
<rect x="1871" y="704" width="1" height="1" fill="#ffffff" />
<rect x="1876" y="684" width="1" height="60" fill="#000000" />
<rect x="1875" y="703" width="3" height="41" fill="#000000" />
<rect x="1881" y="702" width="1" height="64" fill="#000000" />
<rect x="1880" y="744" width="3" height="12" fill="#000000" />
<rect x="1886" y="731" width="1" height="48" fill="#131722" />
<rect x="1885" y="734" width="3" height="22" fill="#131722" />
<rect x="1886" y="735" width="1" height="20" fill="#ffffff" />
<rect x="1891" y="711" width="1" height="39" fill="#131722" />
<rect x="1890" y="725" width="3" height="9" fill="#131722" />
<rect x="1891" y="726" width="1" height="7" fill="#ffffff" />
<rect x="1896" y="722" width="1" height="30" fill="#000000" />
<rect x="1895" y="725" width="3" height="16" fill="#000000" />
<rect x="1901" y="739" width="1" height="34" fill="#000000" />
<rect x="1900" y="741" width="3" height="4" fill="#000000" />
<rect x="1906" y="726" width="1" height="26" fill="#131722" />
<rect x="1905" y="736" width="3" height="10" fill="#131722" />
<rect x="1906" y="737" width="1" height="8" fill="#ffffff" />
<rect x="1911" y="714" width="1" height="27" fill="#131722" />
<rect x="1910" y="715" width="3" height="21" fill="#131722" />
<rect x="1911" y="716" width="1" height="19" fill="#ffffff" />
<rect x="1916" y="674" width="1" height="48" fill="#131722" />
<rect x="1915" y="674" width="3" height="41" fill="#131722" />
<rect x="1916" y="675" width="1" height="39" fill="#ffffff" />
<rect x="1921" y="672" width="1" height="16" fill="#131722" />
<rect x="1920" y="672" width="3" height="3" fill="#131722" />
<rect x="1921" y="673" width="1" height="1" fill="#ffffff" />
<rect x="1926" y="652" width="1" height="24" fill="#131722" />
<rect x="1925" y="655" width="3" height="18" fill="#131722" />
<rect x="1926" y="656" width="1" height="16" fill="#ffffff" />
<rect x="1931" y="650" width="1" height="20" fill="#000000" />
<rect x="1930" y="655" width="3" height="15" fill="#000000" />
<rect x="1936" y="657" width="1" height="42" fill="#000000" />
<rect x="1935" y="669" width="3" height="26" fill="#000000" />
<rect x="1941" y="642" width="1" height="54" fill="#131722" />
<rect x="1940" y="690" width="3" height="5" fill="#131722" />
<rect x="1941" y="691" width="1" height="3" fill="#ffffff" />
<rect x="1946" y="639" width="1" height="57" fill="#131722" />
<rect x="1945" y="666" width="3" height="24" fill="#131722" />
<rect x="1946" y="667" width="1" height="22" fill="#ffffff" />
<rect x="1951" y="660" width="1" height="73" fill="#000000" />
<rect x="1950" y="666" width="3" height="60" fill="#000000" />
</g>
<rect x="1456" y="527" width="1618" height="10.9" fill="rgba(245,118,0,0.32)" />
<rect x="1350" y="655" width="1724" height="13.9" fill="rgba(245,118,0,0.32)" />
<rect x="849" y="929" width="2225" height="9" fill="rgba(245,118,0,0.32)" />
<line x1="830.5" y1="1028.2" x2="2092" y2="686.9" stroke="#43a847" stroke-width="2"/>
<line x1="0" y1="362.2" x2="2440" y2="23.8" stroke="#ff9800" stroke-width="2"/>
<line x1="10" y1="320" x2="3074" y2="320" stroke="#43a847" stroke-width="2" stroke-dasharray="10 12"/>
<circle cx="1700.5" cy="522.2" r="17" fill="rgba(242,54,69,0.10)" stroke="#9c27b0" stroke-width="2"/>
<circle cx="1941.8" cy="650.2" r="17.2" fill="rgba(242,54,69,0.10)" stroke="#9c27b0" stroke-width="2"/>
</g>
<text class="hd" x="9.6" y="19" id="hdr" textLength="357" lengthAdjust="spacingAndGlyphs">gorogadam published on TradingView.com, Jul 24, 2024 15:44 UTC</text>
<text class="lg" x="17.6" y="46" id="lg1" textLength="315" lengthAdjust="spacingAndGlyphs">Crypto Total Market Cap Excluding BTC, $, 1h, CRYPTOCAP</text>
<text class="lg" x="339.2" y="46">O</text><text class="lv" x="348.7" y="46" id="vO" textLength="29.2" lengthAdjust="spacingAndGlyphs">1.055</text><text class="lv" x="379.0" y="46">T</text>
<text class="lg" x="393.1" y="46">H</text><text class="lv" x="401.6" y="46" id="vH" textLength="29.2" lengthAdjust="spacingAndGlyphs">1.056</text><text class="lv" x="431.9" y="46">T</text>
<text class="lg" x="446.5" y="46">L</text><text class="lv" x="453.6" y="46" id="vL" textLength="29.2" lengthAdjust="spacingAndGlyphs">1.046</text><text class="lv" x="483.9" y="46">T</text>
<text class="lg" x="497.9" y="46">C</text><text class="lv" x="505.7" y="46" id="vC" textLength="29.2" lengthAdjust="spacingAndGlyphs">1.047</text><text class="lv" x="536.0" y="46">T</text>
<text class="lv" x="551" y="46" id="chg" textLength="34.6" lengthAdjust="spacingAndGlyphs">−8.189</text>
<text class="lv" x="588" y="46">B</text>
<text class="lv" x="599.2" y="46" id="chg2" textLength="45" lengthAdjust="spacingAndGlyphs">(−0.78%)</text>
<text class="lg" x="17.6" y="63" textLength="23" lengthAdjust="spacingAndGlyphs">EMA</text>
<text class="lg" x="17.6" y="80" textLength="16" lengthAdjust="spacingAndGlyphs">MA</text>
<text class="ax" x="3083.2" y="42.9">1.14<tspan dx="1.7">T</tspan></text>
<text class="ax" x="3083.2" y="79.9">1.135<tspan dx="1.7">T</tspan></text>
<text class="ax" x="3083.2" y="116.9">1.13<tspan dx="1.7">T</tspan></text>
<text class="ax" x="3083.2" y="153.8">1.125<tspan dx="1.7">T</tspan></text>
<text class="ax" x="3083.2" y="190.8">1.12<tspan dx="1.7">T</tspan></text>
<text class="ax" x="3083.2" y="227.8">1.115<tspan dx="1.7">T</tspan></text>
<text class="ax" x="3083.2" y="264.7">1.11<tspan dx="1.7">T</tspan></text>
<text class="ax" x="3083.2" y="301.7">1.105<tspan dx="1.7">T</tspan></text>
<text class="ax" x="3083.2" y="338.6">1.1<tspan dx="1.7">T</tspan></text>
<text class="ax" x="3083.2" y="375.6">1.095<tspan dx="1.7">T</tspan></text>
<text class="ax" x="3083.2" y="412.6">1.09<tspan dx="1.7">T</tspan></text>
<text class="ax" x="3083.2" y="449.5">1.085<tspan dx="1.7">T</tspan></text>
<text class="ax" x="3083.2" y="486.5">1.08<tspan dx="1.7">T</tspan></text>
<text class="ax" x="3083.2" y="523.4">1.075<tspan dx="1.7">T</tspan></text>
<text class="ax" x="3083.2" y="560.4">1.07<tspan dx="1.7">T</tspan></text>
<text class="ax" x="3083.2" y="597.3">1.065<tspan dx="1.7">T</tspan></text>
<text class="ax" x="3083.2" y="634.3">1.06<tspan dx="1.7">T</tspan></text>
<text class="ax" x="3083.2" y="671.3">1.055<tspan dx="1.7">T</tspan></text>
<text class="ax" x="3083.2" y="708.2">1.05<tspan dx="1.7">T</tspan></text>
<text class="ax" x="3083.2" y="745.2">1.045<tspan dx="1.7">T</tspan></text>
<text class="ax" x="3083.2" y="782.1">1.04<tspan dx="1.7">T</tspan></text>
<text class="ax" x="3083.2" y="819.1">1.035<tspan dx="1.7">T</tspan></text>
<text class="ax" x="3083.2" y="856.1">1.03<tspan dx="1.7">T</tspan></text>
<text class="ax" x="3083.2" y="893.0">1.025<tspan dx="1.7">T</tspan></text>
<text class="ax" x="3083.2" y="930.0">1.02<tspan dx="1.7">T</tspan></text>
<text class="ax" x="3083.2" y="966.9">1.015<tspan dx="1.7">T</tspan></text>
<text class="ax" x="3083.2" y="1003.9">1.01<tspan dx="1.7">T</tspan></text>
<text class="ax" x="3083.2" y="1040.9">1.005<tspan dx="1.7">T</tspan></text>
<text class="ax" x="3083.2" y="1077.8">1<tspan dx="1.7">T</tspan></text>
<text class="ax" x="3083.2" y="1114.8">995<tspan dx="1.7">B</tspan></text>
<text class="ax" x="3083.2" y="1151.8">990<tspan dx="1.7">B</tspan></text>
<text class="ax" x="3083.2" y="1188.7">985<tspan dx="1.7">B</tspan></text>
<text class="ax" x="3083.2" y="1225.7">980<tspan dx="1.7">B</tspan></text>
<path d="M3074,312 h51 a2,2 0 0 1 2,2 v13 a2,2 0 0 1 -2,2 h-51 z" fill="#4caf50"/>
<text x="3083.2" y="324.8" font-size="12" font-weight="bold" fill="#fff">1.102<tspan dx="1.2">T</tspan></text>
<path d="M3074,718 h51 a2,2 0 0 1 2,2 v27 a2,2 0 0 1 -2,2 h-51 z" fill="#000"/>
<text x="3083.2" y="730.8" font-size="12" font-weight="bold" fill="#fff">1.047<tspan dx="1.2">T</tspan></text>
<text x="3083.2" y="745" font-size="12" fill="#d8d8d8" textLength="28.8" lengthAdjust="spacingAndGlyphs">15:51</text>
<text class="ax" x="68.5" y="1253.8" text-anchor="middle">9</text>
<text class="ax" x="189.0" y="1253.8" text-anchor="middle" textLength="12.3" lengthAdjust="spacingAndGlyphs">10</text>
<text class="ax" x="309.4" y="1253.8" text-anchor="middle" textLength="12.3" lengthAdjust="spacingAndGlyphs">11</text>
<text class="ax" x="429.9" y="1253.8" text-anchor="middle" textLength="12.3" lengthAdjust="spacingAndGlyphs">12</text>
<text class="ax" x="550.4" y="1253.8" text-anchor="middle" textLength="12.3" lengthAdjust="spacingAndGlyphs">13</text>
<text class="ax" x="670.9" y="1253.8" text-anchor="middle" textLength="12.3" lengthAdjust="spacingAndGlyphs">14</text>
<text class="ax" x="791.3" y="1253.8" text-anchor="middle" textLength="12.3" lengthAdjust="spacingAndGlyphs">15</text>
<text class="ax" x="911.8" y="1253.8" text-anchor="middle" textLength="12.3" lengthAdjust="spacingAndGlyphs">16</text>
<text class="ax" x="1032.3" y="1253.8" text-anchor="middle" textLength="12.3" lengthAdjust="spacingAndGlyphs">17</text>
<text class="ax" x="1152.7" y="1253.8" text-anchor="middle" textLength="12.3" lengthAdjust="spacingAndGlyphs">18</text>
<text class="ax" x="1273.2" y="1253.8" text-anchor="middle" textLength="12.3" lengthAdjust="spacingAndGlyphs">19</text>
<text class="ax" x="1393.7" y="1253.8" text-anchor="middle" textLength="12.3" lengthAdjust="spacingAndGlyphs">20</text>
<text class="ax" x="1514.1" y="1253.8" text-anchor="middle" textLength="12.3" lengthAdjust="spacingAndGlyphs">21</text>
<text class="ax" x="1634.6" y="1253.8" text-anchor="middle" textLength="12.3" lengthAdjust="spacingAndGlyphs">22</text>
<text class="ax" x="1755.1" y="1253.8" text-anchor="middle" textLength="12.3" lengthAdjust="spacingAndGlyphs">23</text>
<text class="ax" x="1875.5" y="1253.8" text-anchor="middle" textLength="12.3" lengthAdjust="spacingAndGlyphs">24</text>
<text class="ax" x="1996.0" y="1253.8" text-anchor="middle" textLength="12.3" lengthAdjust="spacingAndGlyphs">25</text>
<text class="ax" x="2116.5" y="1253.8" text-anchor="middle" textLength="12.3" lengthAdjust="spacingAndGlyphs">26</text>
<text class="ax" x="2237.0" y="1253.8" text-anchor="middle" textLength="12.3" lengthAdjust="spacingAndGlyphs">27</text>
<text class="ax" x="2357.4" y="1253.8" text-anchor="middle" textLength="12.3" lengthAdjust="spacingAndGlyphs">28</text>
<text class="ax" x="2477.9" y="1253.8" text-anchor="middle" textLength="12.3" lengthAdjust="spacingAndGlyphs">29</text>
<text class="ax" x="2598.4" y="1253.8" text-anchor="middle" textLength="12.3" lengthAdjust="spacingAndGlyphs">30</text>
<text class="ax" x="2718.8" y="1253.8" text-anchor="middle" textLength="12.3" lengthAdjust="spacingAndGlyphs">31</text>
<text class="ax" x="2839.3" y="1253.8" text-anchor="middle" font-weight="bold" textLength="22" lengthAdjust="spacingAndGlyphs">Aug</text>
<text class="ax" x="2959.8" y="1253.8" text-anchor="middle">2</text>
<g fill="#d1d4dc"><path d="M9.9,1276.1 h8.3 v9.9 h-4.8 v-6.1 h-3.5 z"/><circle cx="21.2" cy="1277.9" r="2"/><path d="M25,1276.1 h4.8 l-3.6,9.9 h-5 z"/></g>
<text x="32.6" y="1286" font-size="13" fill="#d1d4dc" id="tv" textLength="71" lengthAdjust="spacingAndGlyphs" stroke="#d1d4dc" stroke-width="0.3">TradingView</text>
</svg></body></html>
